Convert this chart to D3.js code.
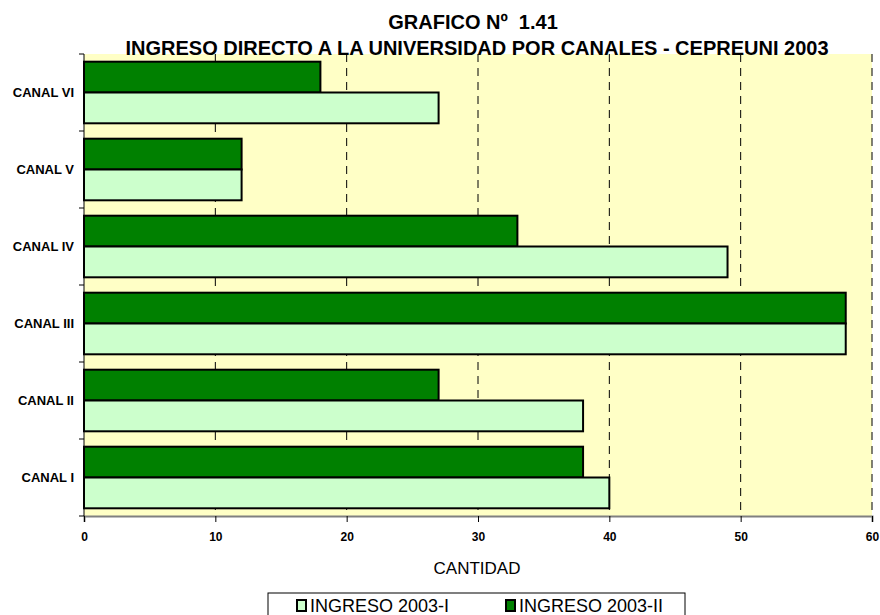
<!DOCTYPE html>
<html>
<head>
<meta charset="utf-8">
<script src="https://cdn.jsdelivr.net/npm/d3@7"></script>
<style>
  body { margin: 0; background: #fff; }
  text { font-family: Arial, "Liberation Sans", sans-serif; }
</style>
</head>
<body>
<svg id="chart"></svg>
<script>
// data
const canales = ['CANAL I', 'CANAL II', 'CANAL III', 'CANAL IV', 'CANAL V', 'CANAL VI'];
const ingreso2003I = [40, 38, 58, 49, 12, 27];
const ingreso2003II = [38, 27, 58, 33, 12, 18];
const seriesNames = ['INGRESO 2003-I', 'INGRESO 2003-II'];
const xTicks = [0, 10, 20, 30, 40, 50, 60];

const width = 880, height = 615;
const margin = { top: 54, right: 8, bottom: 99, left: 84 };
const innerW = width - margin.left - margin.right;
const innerH = height - margin.top - margin.bottom;

const svg = d3.select('#chart')
  .attr('width', width)
  .attr('height', height);

const g = svg.append('g')
  .attr('transform', `translate(${margin.left},${margin.top})`);

const x = d3.scaleLinear().domain([0, 60]).range([0, innerW]);
// reverse so CANAL I sits at the bottom
const y = d3.scaleBand().domain(canales.slice().reverse()).range([0, innerH]).paddingInner(0.2).paddingOuter(0.1);
const ySeries = d3.scaleBand().domain(['II', 'I']).range([0, y.bandwidth()]);

g.append('rect')
  .attr('width', innerW)
  .attr('height', innerH)
  .attr('fill', '#ffffc6');

// dashed grid lines
g.append('g')
  .selectAll('line')
  .data(xTicks.filter(d => d > 0))
  .join('line')
  .attr('x1', d => x(d)).attr('x2', d => x(d))
  .attr('y1', 0).attr('y2', innerH)
  .attr('stroke', '#000')
  .attr('stroke-width', 1)
  .attr('stroke-dasharray', '8,6');

const rows = canales.map((c, i) => ({ canal: c, I: ingreso2003I[i], II: ingreso2003II[i] }));

const grp = g.append('g').selectAll('g')
  .data(rows)
  .join('g')
  .attr('transform', d => `translate(0,${y(d.canal)})`);

grp.append('rect')
  .attr('x', 0)
  .attr('y', ySeries('II'))
  .attr('width', d => x(d.II))
  .attr('height', ySeries.bandwidth())
  .attr('fill', '#008000')
  .attr('stroke', '#000')
  .attr('stroke-width', 2);

grp.append('rect')
  .attr('x', 0)
  .attr('y', ySeries('I'))
  .attr('width', d => x(d.I))
  .attr('height', ySeries.bandwidth())
  .attr('fill', '#ccffcc')
  .attr('stroke', '#000')
  .attr('stroke-width', 2);

// x axis
const xAxis = g.append('g')
  .attr('transform', `translate(0,${innerH})`)
  .call(d3.axisBottom(x).tickValues(xTicks).tickSize(6).tickPadding(10).tickFormat(d3.format('d')));
xAxis.select('.domain').attr('stroke', '#808080').attr('stroke-width', 2);
xAxis.selectAll('.tick line').attr('stroke', '#000');
xAxis.selectAll('text')
  .attr('font-size', 12).attr('font-weight', 'bold').attr('fill', '#000')
  .style('font-family', 'Arial, "Liberation Sans", sans-serif');

// y axis: ticks at category boundaries
const yAxis = g.append('g');
yAxis.append('line')
  .attr('x1', 0).attr('x2', 0).attr('y1', 0).attr('y2', innerH)
  .attr('stroke', '#000');
yAxis.selectAll('line.bound')
  .data(d3.range(canales.length + 1))
  .join('line')
  .attr('class', 'bound')
  .attr('x1', -5).attr('x2', 0)
  .attr('y1', i => i * innerH / canales.length)
  .attr('y2', i => i * innerH / canales.length)
  .attr('stroke', '#000');
yAxis.selectAll('text')
  .data(canales)
  .join('text')
  .attr('x', -10)
  .attr('y', d => y(d) + y.bandwidth() / 2)
  .attr('dy', '0.35em')
  .attr('text-anchor', 'end')
  .attr('font-size', 13)
  .attr('font-weight', 'bold')
  .text(d => d);

// titles
svg.append('text')
  .attr('x', 473).attr('y', 29)
  .attr('text-anchor', 'middle')
  .attr('font-size', 20).attr('font-weight', 'bold')
  .style('white-space', 'pre')
  .text('GRAFICO Nº  1.41');
svg.append('text')
  .attr('x', 477).attr('y', 55)
  .attr('text-anchor', 'middle')
  .attr('font-size', 20).attr('font-weight', 'bold')
  .text('INGRESO DIRECTO A LA UNIVERSIDAD POR CANALES - CEPREUNI 2003');

svg.append('text')
  .attr('x', 477).attr('y', 574)
  .attr('text-anchor', 'middle')
  .attr('font-size', 17)
  .text('CANTIDAD');

// legend
const legend = svg.append('g').attr('transform', 'translate(268,593)');
legend.append('rect')
  .attr('width', 417).attr('height', 30)
  .attr('fill', '#fff').attr('stroke', '#000');
const legendColors = ['#ccffcc', '#008000'];
const li = legend.selectAll('g')
  .data(seriesNames)
  .join('g')
  .attr('transform', (d, i) => `translate(${i === 0 ? 29 : 238},0)`);
li.append('rect')
  .attr('x', 0).attr('y', 7)
  .attr('width', 9).attr('height', 11)
  .attr('fill', (d, i) => legendColors[i])
  .attr('stroke', '#000').attr('stroke-width', 2);
li.append('text')
  .attr('x', 13).attr('y', 19)
  .attr('font-size', 18)
  .text(d => d);
</script>
</body>
</html>
